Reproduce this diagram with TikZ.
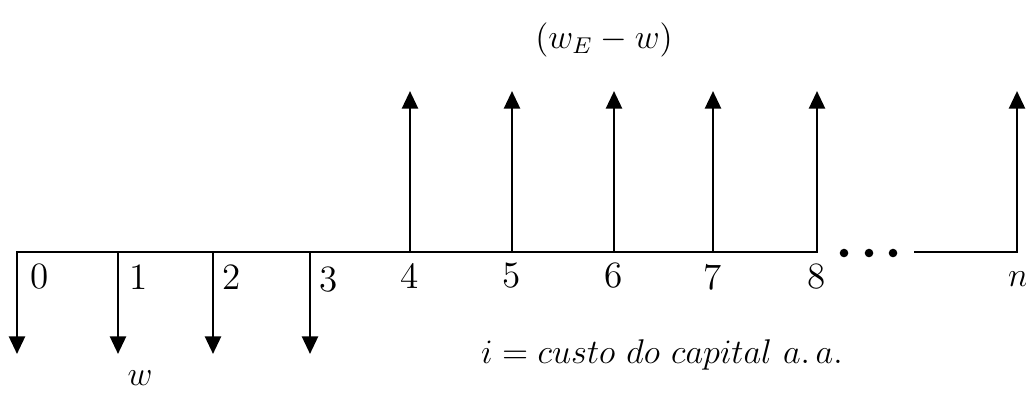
\documentclass[tikz,border=0pt]{standalone}
\usetikzlibrary{arrows.meta}
\tikzset{
  axis/.style={line width=0.95pt, line cap=rect},
  flow/.style={-{Triangle[length=6.2pt,width=5.6pt]}, line width=0.95pt},
  lbl/.style={font=\fontsize{13}{16}\selectfont, inner sep=0pt},
  note/.style={font=\fontsize{12}{15}\selectfont, inner sep=0pt},
  dot/.style={circle, fill, inner sep=0pt, minimum size=3pt}
}

\begin{document}
\begin{tikzpicture}[x=0.35pt, y=-0.35pt]
  \useasboundingbox (0,0) rectangle (1026,394);

  % time line
  \coordinate (t0) at (17,252);
  \coordinate (t1) at (118,252);
  \coordinate (t2) at (213,252);
  \coordinate (t3) at (310,252);
  \coordinate (t4) at (410,252);
  \coordinate (t5) at (512,252);
  \coordinate (t6) at (614,252);
  \coordinate (t7) at (713,252);
  \coordinate (t8) at (817,252);
  \coordinate (tm) at (915,252);
  \coordinate (tn) at (1017,252);
  \draw[axis] (t0) -- (t8);

  % outflows w
  \coordinate (o0) at (17,354);
  \coordinate (o1) at (118,354);
  \coordinate (o2) at (213,354);
  \coordinate (o3) at (310,354);
  \draw[flow] (t0) -- (o0);
  \draw[flow] (t1) -- (o1);
  \draw[flow] (t2) -- (o2);
  \draw[flow] (t3) -- (o3);

  % inflows (w_E - w)
  \coordinate (i4) at (410,91);
  \coordinate (i5) at (512,91);
  \coordinate (i6) at (614,91);
  \coordinate (i7) at (713,91);
  \coordinate (i8) at (817,91);
  \coordinate (in) at (1017,91);
  \draw[flow] (t4) -- (i4);
  \draw[flow] (t5) -- (i5);
  \draw[flow] (t6) -- (i6);
  \draw[flow] (t7) -- (i7);
  \draw[flow] (t8) -- (i8);
  \draw[flow, line cap=rect] (tm) -- (tn) -- (in);

  \node[dot] (d1) at (844,253) {};
  \node[dot] (d2) at (869,253) {};
  \node[dot] (d3) at (893,253) {};

  % period labels
  \node[lbl] (l0) at (40,277) {0};
  \node[lbl] (l1) at (139,277) {1};
  \node[lbl] (l2) at (232,277) {2};
  \node[lbl] (l3) at (329,280) {3};
  \node[lbl] (l4) at (410,276) {4};
  \node[lbl] (l5) at (512,276) {5};
  \node[lbl] (l6) at (614,276) {6};
  \node[lbl] (l7) at (713,277) {7};
  \node[lbl] (l8) at (817,277) {8};
  \node[lbl] (ln) at (1018,279) {$n$};

  \node[lbl] (w) at (140,378) {$w$};
  \node[note] (gain) at (604,40) {$(w_E - w)$};
  \node[note] (rate) at (662,355) {$i = custo\ do\ capital\ a.\,a.$};
\end{tikzpicture}
\end{document}
